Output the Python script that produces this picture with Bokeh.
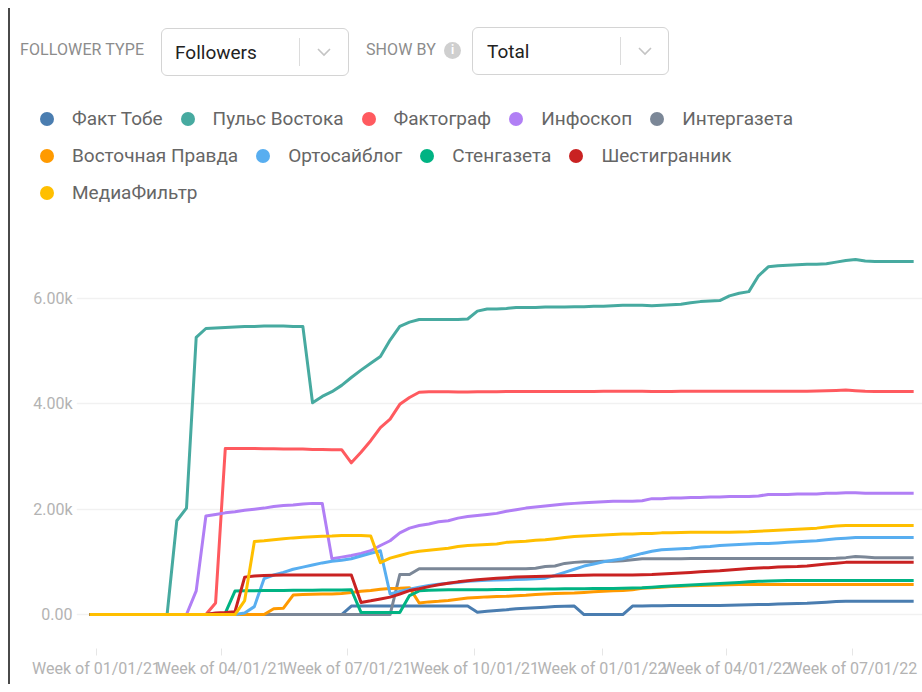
import pandas as pd
from bokeh.plotting import figure
from bokeh.models import Div, Range1d, FixedTicker, DatetimeTickFormatter
from bokeh.layouts import column
from bokeh.embed import file_html
from bokeh.resources import INLINE

# ---------------- data ----------------
week_start = "2020-12-27"
n_weeks = 86

series_names = ["Факт Тобе", "Пульс Востока", "Фактограф", "Инфоскоп", "Интергазета",
                "Восточная Правда", "Ортосайблог", "Стенгазета", "Шестигранник", "МедиаФильтр"]
series_colors = ["#4a7db0", "#47aaa0", "#ff5a5f", "#b17ff5", "#7b8797",
                 "#ff9a00", "#58aef0", "#00b383", "#c92222", "#ffbf00"]

fakt_tobe = [0, 0, 0, 0, 0, 0, 0, 0, 0, 0,
             0, 0, 0, 0, 0, 0, 0, 0, 0, 0,
             0, 0, 0, 0, 0, 0, 0, 160, 160, 160,
             160, 160, 160, 160, 160, 160, 160, 160, 160, 160,
             45, 60, 75, 90, 110, 120, 130, 140, 150, 155,
             160, 0, 0, 0, 0, 0, 160, 160, 165, 165,
             170, 170, 170, 170, 170, 170, 175, 180, 185, 190,
             190, 200, 205, 210, 215, 225, 235, 245, 250, 250,
             250, 250, 250, 250, 250, 250]
puls_vostoka = [0, 0, 0, 0, 0, 0, 0, 0, 0, 1780,
                2020, 5260, 5430, 5440, 5450, 5460, 5470, 5470, 5475, 5475,
                5475, 5470, 5470, 4020, 4140, 4230, 4350, 4500, 4640, 4770,
                4900, 5210, 5470, 5550, 5600, 5600, 5600, 5600, 5600, 5610,
                5760, 5800, 5800, 5810, 5830, 5830, 5830, 5840, 5840, 5840,
                5845, 5845, 5850, 5850, 5860, 5870, 5870, 5870, 5860, 5870,
                5880, 5890, 5920, 5940, 5950, 5960, 6050, 6100, 6130, 6430,
                6600, 6620, 6630, 6640, 6650, 6650, 6660, 6690, 6720, 6740,
                6710, 6700, 6700, 6700, 6700, 6700]
faktograf = [0, 0, 0, 0, 0, 0, 0, 0, 0, 0,
             0, 0, 0, 220, 3150, 3150, 3150, 3150, 3145, 3145,
             3140, 3140, 3140, 3135, 3135, 3130, 3130, 2880, 3080, 3300,
             3550, 3710, 3990, 4120, 4220, 4230, 4230, 4230, 4225, 4225,
             4230, 4230, 4230, 4235, 4235, 4235, 4235, 4235, 4235, 4235,
             4235, 4235, 4235, 4240, 4240, 4240, 4240, 4240, 4235, 4235,
             4235, 4240, 4240, 4240, 4240, 4240, 4240, 4240, 4240, 4240,
             4240, 4240, 4240, 4240, 4240, 4245, 4250, 4255, 4260, 4250,
             4240, 4235, 4235, 4235, 4235, 4235]
infoskop = [0, 0, 0, 0, 0, 0, 0, 0, 0, 0,
            0, 450, 1870, 1900, 1930, 1950, 1980, 2000, 2020, 2050,
            2070, 2080, 2100, 2110, 2110, 1060, 1090, 1120, 1160, 1210,
            1310, 1400, 1550, 1640, 1690, 1720, 1760, 1780, 1830, 1860,
            1880, 1900, 1920, 1960, 1990, 2020, 2040, 2060, 2080, 2100,
            2110, 2120, 2130, 2140, 2150, 2150, 2150, 2160, 2200, 2200,
            2210, 2210, 2220, 2220, 2230, 2230, 2240, 2240, 2240, 2250,
            2280, 2280, 2280, 2290, 2290, 2290, 2300, 2300, 2310, 2310,
            2300, 2300, 2300, 2300, 2300, 2300]
intergazeta = [0, 0, 0, 0, 0, 0, 0, 0, 0, 0,
               0, 0, 0, 0, 0, 0, 0, 0, 0, 0,
               0, 0, 0, 0, 0, 0, 0, 0, 0, 0,
               0, 0, 760, 760, 870, 870, 870, 870, 870, 870,
               870, 870, 870, 870, 870, 870, 880, 910, 920, 970,
               990, 1000, 1000, 1010, 1010, 1020, 1040, 1060, 1060, 1060,
               1060, 1060, 1065, 1065, 1065, 1065, 1065, 1065, 1065, 1065,
               1065, 1065, 1065, 1065, 1065, 1065, 1065, 1070, 1080, 1100,
               1090, 1080, 1080, 1080, 1080, 1080]
vostochnaya_pravda = [0, 0, 0, 0, 0, 0, 0, 0, 0, 0,
                      0, 0, 0, 0, 0, 0, 0, 0, 0, 110,
                      120, 370, 380, 385, 390, 390, 400, 420, 440, 455,
                      480, 495, 500, 510, 220, 240, 250, 265, 290, 315,
                      325, 335, 340, 345, 355, 365, 380, 390, 400, 405,
                      410, 420, 430, 440, 450, 455, 470, 500, 510, 520,
                      530, 535, 545, 550, 555, 560, 565, 570, 570, 570,
                      570, 570, 570, 570, 570, 570, 570, 570, 570, 570,
                      570, 570, 570, 570, 570, 570]
ortosaiblog = [0, 0, 0, 0, 0, 0, 0, 0, 0, 0,
               0, 0, 0, 0, 0, 0, 30, 150, 680, 750,
               800, 860, 900, 940, 980, 1010, 1030, 1060, 1110, 1160,
               1210, 390, 440, 480, 520, 550, 575, 595, 610, 630,
               640, 650, 655, 660, 665, 670, 680, 690, 740, 800,
               860, 920, 960, 1000, 1030, 1060, 1110, 1160, 1200, 1230,
               1240, 1250, 1260, 1280, 1290, 1310, 1320, 1330, 1340, 1350,
               1350, 1360, 1370, 1380, 1390, 1400, 1420, 1440, 1450, 1460,
               1460, 1460, 1460, 1460, 1460, 1460]
stengazeta = [0, 0, 0, 0, 0, 0, 0, 0, 0, 0,
              0, 0, 0, 20, 25, 445, 450, 450, 455, 455,
              455, 460, 460, 460, 465, 465, 465, 470, 40, 40,
              40, 40, 40, 360, 450, 460, 465, 470, 470, 470,
              470, 472, 474, 476, 478, 480, 482, 484, 486, 488,
              490, 490, 492, 494, 496, 500, 505, 510, 520, 530,
              540, 550, 560, 570, 580, 590, 600, 610, 620, 630,
              635, 640, 645, 645, 645, 645, 645, 645, 645, 645,
              645, 645, 645, 645, 645, 645]
shestigrannik = [0, 0, 0, 0, 0, 0, 0, 0, 0, 0,
                 0, 0, 0, 30, 40, 55, 710, 730, 740, 745,
                 750, 750, 750, 750, 750, 750, 750, 750, 230, 260,
                 295, 330, 390, 455, 490, 530, 565, 595, 620, 640,
                 660, 675, 690, 700, 710, 715, 720, 725, 730, 735,
                 740, 745, 750, 750, 750, 750, 750, 755, 760, 770,
                 780, 790, 800, 810, 820, 830, 845, 860, 875, 885,
                 890, 900, 905, 910, 920, 940, 960, 975, 990, 990,
                 990, 990, 990, 990, 990, 990]
mediafiltr = [0, 0, 0, 0, 0, 0, 0, 0, 0, 0,
              0, 0, 0, 0, 0, 0, 265, 1385, 1400, 1420,
              1440, 1455, 1465, 1475, 1485, 1490, 1500, 1500, 1500, 1490,
              985, 1070, 1120, 1170, 1200, 1220, 1240, 1260, 1290, 1310,
              1320, 1330, 1340, 1370, 1380, 1390, 1410, 1420, 1440, 1460,
              1480, 1490, 1500, 1510, 1520, 1530, 1530, 1540, 1540, 1550,
              1550, 1555, 1560, 1560, 1560, 1560, 1560, 1565, 1570, 1580,
              1590, 1600, 1610, 1620, 1630, 1640, 1660, 1680, 1690, 1690,
              1690, 1690, 1690, 1690, 1690, 1690]

series_values = [fakt_tobe, puls_vostoka, faktograf, infoskop, intergazeta,
                 vostochnaya_pravda, ortosaiblog, stengazeta, shestigrannik, mediafiltr]

y_ticks = [0, 2000, 4000, 6000]
y_tick_labels = ["0.00", "2.00k", "4.00k", "6.00k"]
x_tick_dates = ["2021-01-01", "2021-04-01", "2021-07-01", "2021-10-01",
                "2022-01-01", "2022-04-01", "2022-07-01"]
x_tick_format = "Week of %m/%d/%y"

legend_rows = [[0, 1, 2, 3, 4], [5, 6, 7, 8], [9]]

FONT = "Roboto, 'Helvetica Neue', Arial, sans-serif"

# ---------------- header (controls + legend) ----------------
chev = ('<svg width="14" height="9" style="position:absolute;left:{x}px;top:{y}px">'
        '<polyline points="1,1 7,7 13,1" fill="none" stroke="#c4c4c4" stroke-width="1.6"/></svg>')

html = []
html.append(f'<div style="position:relative;width:912px;height:212px;font-family:{FONT};">')
# Follower type
html.append('<div style="position:absolute;left:10px;top:33px;font-size:16px;line-height:18px;'
            'color:#8c8c8c;letter-spacing:0.1px;white-space:nowrap;">FOLLOWER TYPE</div>')
html.append('<div style="position:absolute;left:151px;top:20px;width:188px;height:48px;box-sizing:border-box;'
            'border:1px solid #d4d4d4;border-radius:6px;"></div>')
html.append('<div style="position:absolute;left:165px;top:34px;font-size:19px;line-height:22px;color:#222;'
            'white-space:nowrap;">Followers</div>')
html.append('<div style="position:absolute;left:289px;top:30px;width:1px;height:28px;background:#dcdcdc;"></div>')
html.append(chev.format(x=307, y=40))
# Show by
html.append('<div style="position:absolute;left:356px;top:33px;font-size:16px;line-height:18px;'
            'color:#8c8c8c;letter-spacing:0.1px;white-space:nowrap;">SHOW BY</div>')
html.append('<div style="position:absolute;left:434px;top:34px;width:17px;height:17px;border-radius:50%;'
            'background:#cfcfcf;color:#fff;font-size:12px;font-weight:bold;line-height:17px;text-align:center;">i</div>')
html.append('<div style="position:absolute;left:462px;top:19px;width:197px;height:48px;box-sizing:border-box;'
            'border:1px solid #d4d4d4;border-radius:6px;"></div>')
html.append('<div style="position:absolute;left:477px;top:33px;font-size:19px;line-height:22px;color:#222;'
            'white-space:nowrap;">Total</div>')
html.append('<div style="position:absolute;left:610px;top:29px;width:1px;height:28px;background:#dcdcdc;"></div>')
html.append(chev.format(x=628, y=39))
# Legend
row_tops = [100, 137, 174]
for r, idxs in enumerate(legend_rows):
    items = []
    for i in idxs:
        items.append(
            f'<span style="display:inline-flex;align-items:center;margin-right:18px;">'
            f'<span style="display:inline-block;width:14px;height:14px;border-radius:50%;'
            f'background:{series_colors[i]};margin-right:18px;"></span>'
            f'<span style="font-size:19px;line-height:22px;color:#666;">{series_names[i]}</span></span>')
    html.append(f'<div style="position:absolute;left:30px;top:{row_tops[r]}px;display:flex;'
                f'white-space:nowrap;">{"".join(items)}</div>')
html.append('</div>')

header = Div(text="".join(html), width=912, height=212, margin=0)

# ---------------- chart ----------------
weeks = pd.date_range(week_start, periods=n_weeks, freq="7D")

p = figure(width=912, height=464, x_axis_type="datetime",
           x_range=Range1d(pd.Timestamp("2020-12-17 14:00"), pd.Timestamp("2022-08-20 09:00")),
           y_range=Range1d(-645, 7480),
           output_backend="svg", toolbar_location=None,
           min_border_left=66, min_border_right=0, min_border_top=0, min_border_bottom=36,
           margin=0)
p.outline_line_color = None
p.background_fill_color = "white"
p.border_fill_color = "white"

for vals, col in zip(series_values, series_colors):
    p.line(weeks, vals, line_color=col, line_width=3, line_join="round")

p.xgrid.grid_line_color = None
p.ygrid.grid_line_color = "#f1f1f1"
p.ygrid.grid_line_width = 1.5
p.ygrid.ticker = FixedTicker(ticks=y_ticks)

ya = p.yaxis[0]
ya.ticker = FixedTicker(ticks=y_ticks)
ya.major_label_overrides = {t: lab for t, lab in zip(y_ticks, y_tick_labels)}
ya.axis_line_color = None
ya.major_tick_line_color = None
ya.minor_tick_line_color = None
ya.major_tick_out = 0
ya.major_tick_in = 0
ya.major_label_standoff = 4
ya.major_label_text_font = "Roboto"
ya.major_label_text_font_size = "16px"
ya.major_label_text_color = "#b3b3b3"

xa = p.xaxis[0]
xa.ticker = FixedTicker(ticks=[pd.Timestamp(d).value / 1e6 for d in x_tick_dates])
xa.formatter = DatetimeTickFormatter(
    milliseconds=x_tick_format, seconds=x_tick_format, minsec=x_tick_format, minutes=x_tick_format,
    hourmin=x_tick_format, hours=x_tick_format, days=x_tick_format, months=x_tick_format,
    years=x_tick_format)
xa.axis_line_color = None
xa.major_tick_line_color = "#e6e6e6"
xa.major_tick_out = 7
xa.major_tick_in = 0
xa.minor_tick_line_color = None
xa.major_label_standoff = 3
xa.major_label_text_font = "Roboto"
xa.major_label_text_font_size = "16px"
xa.major_label_text_color = "#b3b3b3"

layout = column(header, p, spacing=0, margin=(8, 0, 0, 8),
                styles={"border-left": "2px solid #4a4a4a"})

open("out.html", "w").write(file_html(layout, INLINE))
